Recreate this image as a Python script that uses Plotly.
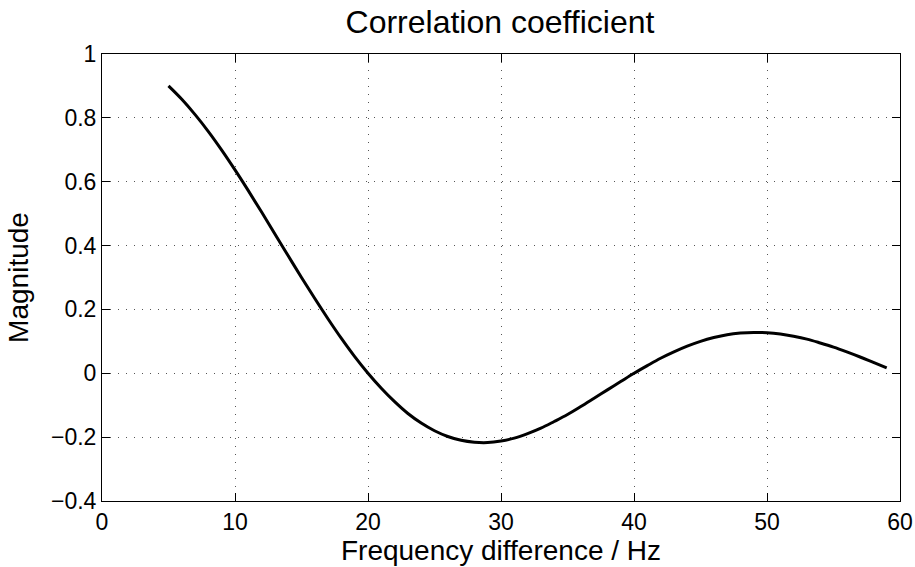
import plotly.graph_objects as go

# Frequency difference (Hz) and correlation magnitude
freq_hz = list(range(5, 60))
magnitude = [
    0.900, 0.858, 0.810, 0.757, 0.699, 0.637, 0.572, 0.505, 0.436, 0.368,
    0.300, 0.234, 0.170, 0.109, 0.052, 0.000, -0.047, -0.089, -0.126, -0.156,
    -0.180, -0.198, -0.210, -0.216, -0.217, -0.212, -0.203, -0.189, -0.172, -0.151,
    -0.129, -0.104, -0.078, -0.052, -0.026, 0.000, 0.024, 0.047, 0.067, 0.085,
    0.100, 0.112, 0.121, 0.126, 0.128, 0.127, 0.123, 0.116, 0.107, 0.095,
    0.082, 0.067, 0.051, 0.034, 0.017,
]

x_ticks = [0, 10, 20, 30, 40, 50, 60]
y_ticks = [-0.4, -0.2, 0, 0.2, 0.4, 0.6, 0.8, 1]

FONT = "Liberation Sans, Arial, Helvetica, sans-serif"

fig = go.Figure()
fig.add_trace(go.Scatter(
    x=freq_hz, y=magnitude, mode="lines",
    line=dict(color="black", width=3, shape="spline"),
    showlegend=False, hoverinfo="skip",
))

axis_common = dict(
    showline=True, linecolor="black", linewidth=1, mirror="ticks",
    ticks="inside", ticklen=8, tickwidth=1, tickcolor="black",
    showgrid=True, gridcolor="#555555", gridwidth=1, griddash="1px,7px",
    zeroline=False, automargin=False,
    tickfont=dict(family=FONT, size=23, color="black"),
)

fig.update_xaxes(
    range=[0, 60], tickvals=x_ticks, ticktext=[str(v) for v in x_ticks],
    title=dict(text="Frequency difference / Hz", standoff=2,
               font=dict(family=FONT, size=28, color="black")),
    **axis_common,
)
fig.update_yaxes(
    range=[-0.4, 1], tickvals=y_ticks,
    ticktext=[("\u2212" + f"{abs(v):g}") if v < 0 else f"{v:g}" for v in y_ticks],
    title=dict(text="Magnitude", standoff=14,
               font=dict(family=FONT, size=28, color="black")),
    **axis_common,
)

fig.update_layout(
    width=915, height=567,
    margin=dict(l=102, r=15, t=54, b=66),
    paper_bgcolor="white", plot_bgcolor="white",
    title=dict(text="Correlation coefficient", x=500 / 915, xanchor="center",
               y=1 - 22 / 567, yanchor="middle", yref="container",
               font=dict(family=FONT, size=32, color="black")),
)

fig.write_html("out.html")
